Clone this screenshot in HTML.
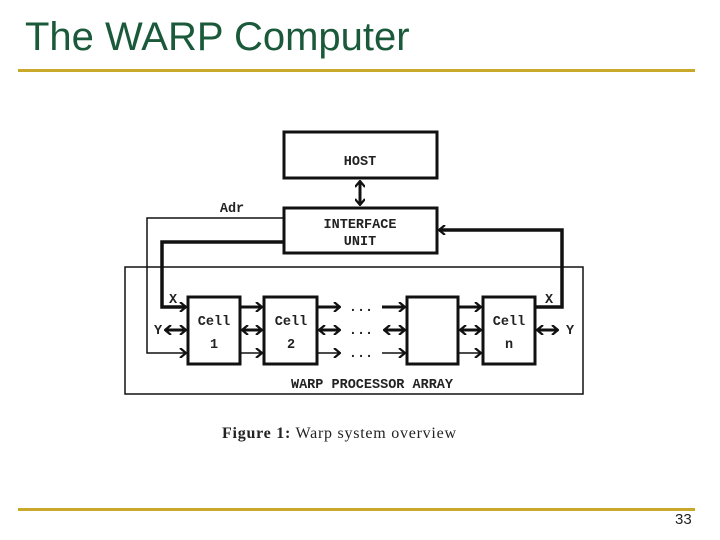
<!DOCTYPE html>
<html><head><style>
body{margin:0;width:720px;height:540px;background:#fff;overflow:hidden;position:relative;font-family:"Liberation Sans",sans-serif}
.t{position:absolute;left:25px;top:15px;font-size:40px;color:#1a5a3a}
.l{position:absolute;left:18px;width:677px;height:3px;background:#c8a92a}
.n{position:absolute;left:675px;top:511px;font-size:15px;color:#222}
</style></head><body>
<div class="t">The WARP Computer</div>
<div class="l" style="top:69px"></div>
<div class="l" style="top:508px"></div>
<div class="n">33</div>
<svg width="720" height="540" style="position:absolute;left:0;top:0" font-family="Liberation Mono, monospace" font-size="13.5" fill="#222" font-weight="bold">
<defs>
<marker id="a" markerWidth="8" markerHeight="10" refX="7" refY="5" orient="auto-start-reverse" markerUnits="userSpaceOnUse"><path d="M1,0 L7,5 L1,10" fill="none" stroke="#111" stroke-width="2.2"/></marker>
</defs>
<g stroke="#111" fill="none">
<rect x="284" y="132" width="153" height="46" stroke-width="3"/>
<rect x="284" y="208" width="153" height="45" stroke-width="3"/>
<rect x="125" y="267" width="458" height="127" stroke-width="1.5"/>
<rect x="188" y="297" width="52" height="67" stroke-width="3"/>
<rect x="264" y="297" width="53" height="67" stroke-width="3"/>
<rect x="407" y="297" width="51" height="67" stroke-width="3"/>
<rect x="483" y="297" width="52" height="67" stroke-width="3"/>
<line x1="360" y1="181" x2="360" y2="205" stroke-width="3" marker-end="url(#a)" marker-start="url(#a)"/>
<polyline points="284,218 147,218 147,353 186,353" stroke-width="1.5" marker-end="url(#a)"/>
<polyline points="284,242 162,242 162,307 186,307" stroke-width="3.5" marker-end="url(#a)"/>
<polyline points="535,307 562,307 562,230 439,230" stroke-width="3.5" marker-end="url(#a)"/>
<line x1="240" y1="307" x2="262" y2="307" stroke-width="3" marker-end="url(#a)"/>
<line x1="317" y1="307" x2="340" y2="307" stroke-width="3" marker-end="url(#a)"/>
<line x1="382" y1="307" x2="405" y2="307" stroke-width="3" marker-end="url(#a)"/>
<line x1="458" y1="307" x2="481" y2="307" stroke-width="3" marker-end="url(#a)"/>
<line x1="240" y1="353" x2="262" y2="353" stroke-width="1.5" marker-end="url(#a)"/>
<line x1="317" y1="353" x2="340" y2="353" stroke-width="1.5" marker-end="url(#a)"/>
<line x1="382" y1="353" x2="405" y2="353" stroke-width="1.5" marker-end="url(#a)"/>
<line x1="458" y1="353" x2="481" y2="353" stroke-width="1.5" marker-end="url(#a)"/>
<line x1="165" y1="330" x2="186" y2="330" stroke-width="3" marker-end="url(#a)" marker-start="url(#a)"/>
<line x1="242" y1="330" x2="262" y2="330" stroke-width="3" marker-end="url(#a)" marker-start="url(#a)"/>
<line x1="319" y1="330" x2="340" y2="330" stroke-width="3" marker-end="url(#a)" marker-start="url(#a)"/>
<line x1="384" y1="330" x2="405" y2="330" stroke-width="3" marker-end="url(#a)" marker-start="url(#a)"/>
<line x1="460" y1="330" x2="481" y2="330" stroke-width="3" marker-end="url(#a)" marker-start="url(#a)"/>
<line x1="537" y1="330" x2="558" y2="330" stroke-width="3" marker-end="url(#a)" marker-start="url(#a)"/>
</g>
<g text-anchor="middle">
<text x="360" y="165">HOST</text>
<text x="360" y="228">INTERFACE</text>
<text x="360" y="245">UNIT</text>
<text x="214" y="325">Cell</text><text x="214" y="348">1</text>
<text x="291" y="325">Cell</text><text x="291" y="348">2</text>
<text x="509" y="325">Cell</text><text x="509" y="348">n</text>
<text x="361" y="311">...</text><text x="361" y="334">...</text><text x="361" y="357">...</text>
<text x="372" y="388">WARP PROCESSOR ARRAY</text>
<text x="232" y="212">Adr</text>
<text x="173" y="303">X</text>
<text x="549" y="303">X</text>
<text x="158" y="334">Y</text>
<text x="570" y="334">Y</text>
</g>
<text x="222" y="438" font-family="Liberation Serif, serif" font-size="16" font-weight="normal" textLength="234"><tspan font-weight="bold">Figure 1:</tspan>  Warp system overview</text>
</svg>
</body></html>
